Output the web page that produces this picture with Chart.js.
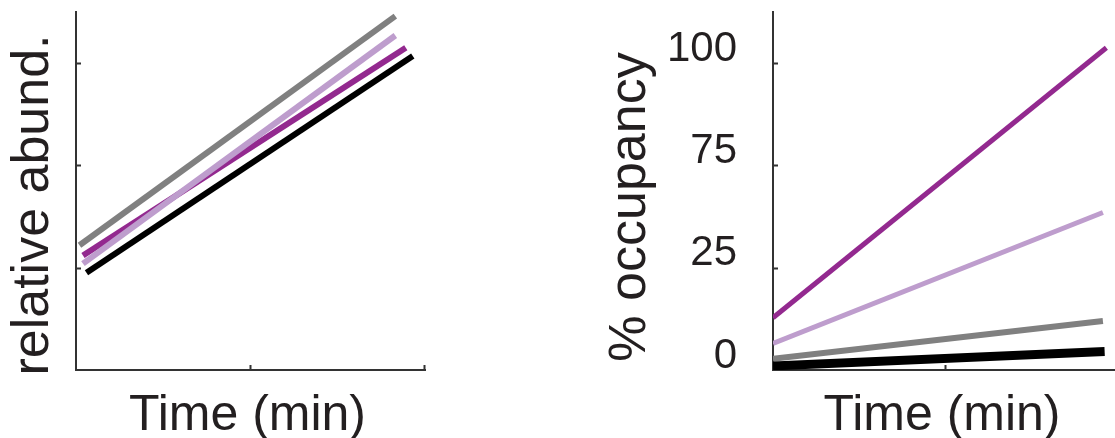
<!DOCTYPE html>
<html>
<head>
<meta charset="utf-8">
<script src="https://cdn.jsdelivr.net/npm/chart.js@4.4.1/dist/chart.umd.min.js"></script>
<style>
  html, body { margin: 0; padding: 0; background: #fff; }
  body { width: 1115px; height: 438px; position: relative; overflow: hidden; }
  #c-abund { position: absolute; left: 0; top: 0; }
  #c-occ   { position: absolute; left: 590px; top: 0; }
</style>
</head>
<body>
<canvas id="c-abund" width="450" height="438"></canvas>
<canvas id="c-occ" width="525" height="438"></canvas>
<script>
// ── data: [time, value] pairs, arbitrary units ──
const ABUND_GRAY     = [[0.02, 1.22], [1.83, 3.46]];
const ABUND_LAVENDER = [[0.04, 1.04], [1.83, 3.27]];
const ABUND_PURPLE   = [[0.04, 1.12], [1.89, 3.15]];
const ABUND_BLACK    = [[0.06, 0.95], [1.93, 3.07]];

const OCC_PURPLE   = [[0, 0.51], [1.93, 3.15]];
const OCC_LAVENDER = [[0, 0.26], [1.91, 1.54]];
const OCC_GRAY     = [[0, 0.11], [1.91, 0.48]];
const OCC_BLACK    = [[0, 0.04], [1.92, 0.18]];

// y tick labels of the occupancy panel (evenly spaced on the axis)
const OCC_TICKS = ["0", "25", "75", "100"];

const PURPLE   = "#93298f";
const LAVENDER = "#be9dcd";
const GRAY     = "#808080";
const BLACK    = "#000000";
const INK      = "#231f20";
const AXIS     = "#333333";
const FONT     = "'Liberation Sans', Arial, Helvetica, sans-serif";

const pts = arr => arr.map(([x, y]) => ({ x, y }));

function ds(data, color, width) {
  return { data: pts(data), borderColor: color, borderWidth: width, pointRadius: 0, tension: 0, fill: false };
}

// ── inward tick marks + axis titles ──
const axisDecor = {
  id: "axisDecor",
  afterDraw(chart, args, opts) {
    const ctx = chart.ctx, ca = chart.chartArea;
    const xs = chart.scales.x, ys = chart.scales.y;
    ctx.save();
    ctx.strokeStyle = AXIS;
    ctx.lineWidth = 2;
    ctx.beginPath();
    for (const v of opts.yTicks) {
      const py = Math.round(ys.getPixelForValue(v)) + 0.5;
      ctx.moveTo(ca.left, py);
      ctx.lineTo(ca.left + 5, py);
    }
    for (const v of opts.xTicks) {
      const px = Math.round(xs.getPixelForValue(v)) - 0.5;
      ctx.moveTo(px, ca.bottom);
      ctx.lineTo(px, ca.bottom - 5);
    }
    ctx.stroke();

    ctx.fillStyle = INK;
    ctx.textAlign = "center";
    ctx.textBaseline = "alphabetic";
    // x title
    ctx.font = `${opts.xTitle.size}px ${FONT}`;
    ctx.fillText(opts.xTitle.text, (ca.left + ca.right) / 2 + opts.xTitle.dx, opts.xTitle.base);
    // y title, reads bottom to top
    ctx.font = `${opts.yTitle.size}px ${FONT}`;
    ctx.translate(opts.yTitle.base, (ca.top + ca.bottom) / 2 + opts.yTitle.dy);
    ctx.rotate(-Math.PI / 2);
    ctx.fillText(opts.yTitle.text, 0, 0);
    ctx.restore();
  }
};

function baseOpts(yWidth, xMax, padRight, showYLabels) {
  return {
    responsive: false,
    animation: false,
    layout: { padding: { top: 12, right: padRight, left: 0, bottom: 0 } },
    plugins: { legend: { display: false }, tooltip: { enabled: false } },
    scales: {
      x: {
        type: "linear", min: 0, max: xMax,
        grid: { display: false },
        border: { display: true, color: AXIS, width: 2 },
        ticks: { display: false },
        afterFit(s) { s.height = 68; s.paddingLeft = 0; s.paddingRight = 0; }
      },
      y: {
        type: "linear", min: 0, max: 3.5,
        grid: { display: false },
        border: { display: true, color: AXIS, width: 2 },
        ticks: {
          display: showYLabels,
          stepSize: 1,
          includeBounds: false,
          autoSkip: false,
          padding: 28,
          labelOffset: -14,
          color: INK,
          font: { family: FONT, size: 42 },
          callback: v => (Number.isInteger(v) && OCC_TICKS[v] !== undefined) ? OCC_TICKS[v] : ""
        },
        afterFit(s) { s.width = yWidth; s.paddingTop = 0; s.paddingBottom = 0; }
      }
    }
  };
}

// ── left panel: relative abundance ──
const abundOpts = baseOpts(76, 2, 25, false);
abundOpts.plugins.axisDecor = {
  yTicks: [1, 2, 3], xTicks: [1, 2],
  xTitle: { text: "Time (min)", size: 50, base: 430, dx: -3 },
  yTitle: { text: "relative abund.", size: 52, base: 48, dy: 14 }
};
new Chart(document.getElementById("c-abund"), {
  type: "line",
  data: {
    datasets: [
      ds(ABUND_GRAY, GRAY, 6),
      ds(ABUND_LAVENDER, LAVENDER, 6),
      ds(ABUND_PURPLE, PURPLE, 6),
      ds(ABUND_BLACK, BLACK, 6)
    ]
  },
  options: abundOpts,
  plugins: [axisDecor]
});

// ── right panel: % occupancy ──
const occOpts = baseOpts(183, 1.98, 0, true);
occOpts.plugins.axisDecor = {
  yTicks: [1, 2, 3], xTicks: [1],
  xTitle: { text: "Time (min)", size: 50, base: 430, dx: -2 },
  yTitle: { text: "% occupancy", size: 52, base: 55, dy: 16 }
};
new Chart(document.getElementById("c-occ"), {
  type: "line",
  data: {
    datasets: [
      ds(OCC_BLACK, BLACK, 9),
      ds(OCC_GRAY, GRAY, 6),
      ds(OCC_LAVENDER, LAVENDER, 5),
      ds(OCC_PURPLE, PURPLE, 5)
    ]
  },
  options: occOpts,
  plugins: [axisDecor]
});
</script>
</body>
</html>
